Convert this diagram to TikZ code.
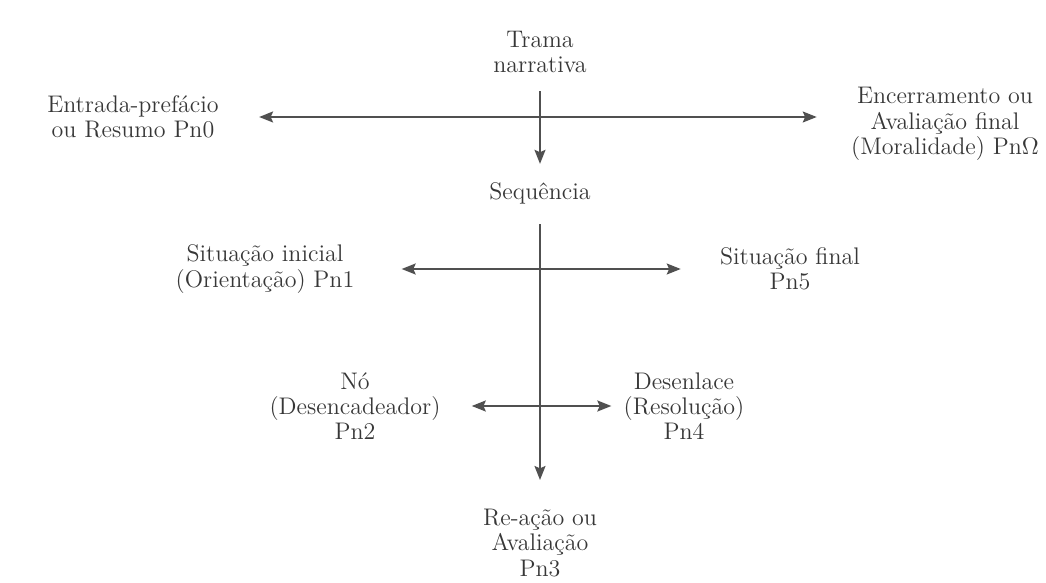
\documentclass[tikz,border=0pt]{standalone}
\usepackage{tikz}
\usetikzlibrary{arrows.meta, positioning}
\definecolor{inkgray}{RGB}{55,55,55}
\definecolor{linegray}{RGB}{80,80,80}

\begin{document}
\begin{tikzpicture}[
    x=0.5pt, y=-0.5pt,
    label/.style={align=center, text=inkgray, inner sep=1pt,
                  font=\fontsize{12}{12.6}\selectfont},
    oneway/.style={-{Stealth[length=7pt, width=5.5pt, inset=1.2pt]},
                   draw=linegray, line width=0.9pt},
    twoway/.style={{Stealth[length=7pt, width=5.5pt, inset=1.2pt]}-{Stealth[length=7pt, width=5.5pt, inset=1.2pt]},
                   draw=linegray, line width=0.9pt},
]
    \useasboundingbox (0,0) rectangle (1046,583);

    % Trama
    \node[label] (trama) at (540,52) {Trama\\narrativa};
    \node[label] (entrada) at (133,117) {Entrada-prefácio\\ou Resumo Pn0};
    \node[label] (encerr) at (945,124) {Encerramento ou\\Avaliação final\\(Moralidade) Pn$\Omega$};
    \node[label] (seq) at (540,193) {Sequência};

    \draw[oneway, shorten <=8pt, shorten >=8pt] (trama) -- (seq);
    \draw[twoway, shorten <=19pt, shorten >=16pt] (entrada.east) -- (entrada.east -| encerr.west);

    % Sequencia
    \node[label] (sitini) at (265,269) {Situação inicial\\(Orientação) Pn1};
    \node[label] (sitfin) at (790,269) {Situação final\\Pn5};
    \node[label] (no) at (355,406) {Nó\\(Desencadeador)\\Pn2};
    \node[label] (des) at (684,406) {Desenlace\\(Resolução)\\Pn4};
    \node[label] (reacao) at (540,543) {Re-ação ou\\Avaliação\\Pn3};

    \draw[oneway, shorten <=9pt, shorten >=13.5pt] (seq) -- (reacao);
    \draw[twoway, shorten <=22.5pt, shorten >=18.5pt] (sitini.east) -- (sitini.east -| sitfin.west);
    \draw[twoway, shorten <=14.5pt, shorten >=5pt] (no) -- (des);
\end{tikzpicture}
\end{document}
